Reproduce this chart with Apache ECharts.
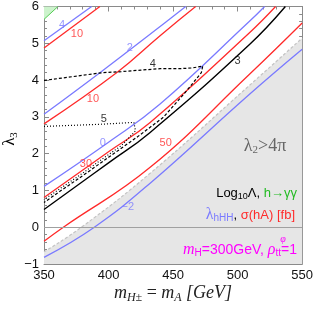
<!DOCTYPE html>
<html><head><meta charset="utf-8">
<script src="https://cdn.jsdelivr.net/npm/echarts@6/dist/echarts.min.js"></script>
<style>html,body{margin:0;padding:0;background:#fff}#c{width:316px;height:309px}</style>
</head><body><div id="c"></div>
<script>
// ---- data (x = m_H± = m_A [GeV], y = λ3) ----
const greenRegion = [[350,5.65],[360.8,6]];
const lambda2Boundary = [[350,-0.67],[379,0],[432,1.46],[509,3.85],[550,5.14]];
const lamM2 = [[350,-0.82],[389,0],[432,1.19],[509,3.61],[550,4.84]];
const sig50 = [[350,-0.38],[365,0],[432,1.62],[509,4.15],[550,5.55]];
const log3 = [[350,0.48],[400,1.75],[432,2.57],[509,4.96],[537,6]];
const sig30 = [[350,0.81],[400,2.05],[432,2.84],[509,5.28],[529.4,6]];
const lam0 = [[350,1.11],[400,2.31],[439.7,3.34],[509,5.59],[520.9,6]];
const sig10b = [[350,2.81],[407,4.22],[439.7,5.2],[467.5,6]];
const lam2 = [[350,3.07],[393.3,4.2],[439.7,5.45],[459.8,6]];
const sig10a = [[350,4.87],[393.3,6]];
const lam4 = [[350,5.07],[386.9,6]];
const log4 = [[350,3.99],[365,4.06],[380,4.13],[395,4.2],[410,4.23],[425,4.27],[440,4.31],[455,4.31],[465,4.33],[473,4.38],
              [471.9,4.2],[460.3,3.7],[442.2,2.98],[421.7,2.44],[400,1.9],[380,1.4],[365,1.04],[350,0.67]];
const log5 = [[350,2.74],[365,2.76],[380,2.78],[395,2.8],[410,2.83],[419.6,2.85],
              [420.9,2.62],[410,2.22],[395,1.85],[380,1.47],[365,1.11],[350,0.75]];
const labelText = ['4','10','2','10','4','5','0','30','3','50','\u22122'];
const labelX = [363.9,375.5,416.5,387.9,434.3,396.4,395.6,382.5,500,444.3,414.9];
const labelY = [5.51,5.24,4.86,3.49,4.43,2.95,2.30,1.73,4.51,2.30,0.54];
const labelKind = ['lam','sig','lam','sig','log','log','lam','sig','log','sig','lam'];
const xTicks = [350,400,450,500,550];
const yTicks = [-1,0,1,2,3,4,5,6];

// ---- styles ----
const BLUE = '#7a7aff', RED = '#ff2a2a', BLACK = '#000', GREEN = '#33bb33';
const kindColor = {lam: BLUE, sig: RED, log: BLACK};
const FRAME = '#8a8a8a';
const SANS = 'Liberation Sans, Arial, sans-serif';
const SERIF = 'Liberation Serif, Times New Roman, serif';

function line(data, color, opts) {
  return Object.assign({type:'line', data, symbol:'none', smooth:0.45, silent:true,
    lineStyle:{color, width:1.3}}, opts || {});
}
const axisCommon = {
  axisLine:{show:true, onZero:false, lineStyle:{color:FRAME, width:1}},
  axisTick:{show:true, inside:true, length:5, lineStyle:{color:FRAME}},
  minorTick:{show:true, splitNumber:5, length:3, lineStyle:{color:FRAME}},
  splitLine:{show:false}
};
const fmt = v => String(v).replace('-', '\u2212');

const chart = echarts.init(document.getElementById('c'), null, {renderer:'canvas'});
chart.setOption({
  animation:false,
  grid:{left:44, right:13, top:5, bottom:45},
  xAxis:[
    Object.assign({type:'value', min:xTicks[0], max:xTicks[xTicks.length-1], interval:xTicks[1]-xTicks[0], position:'bottom',
      axisLabel:{color:'#111', fontSize:13, fontFamily:SANS, margin:5, formatter:fmt}}, axisCommon),
    Object.assign({type:'value', min:xTicks[0], max:xTicks[xTicks.length-1], interval:xTicks[1]-xTicks[0], position:'top',
      axisLabel:{show:false}}, axisCommon)
  ],
  yAxis:[
    Object.assign({type:'value', min:yTicks[0], max:yTicks[yTicks.length-1], interval:1, position:'left',
      axisLabel:{color:'#111', fontSize:13, fontFamily:SANS, margin:5, formatter:fmt}}, axisCommon),
    Object.assign({type:'value', min:yTicks[0], max:yTicks[yTicks.length-1], interval:1, position:'right',
      axisLabel:{show:false}}, axisCommon)
  ],
  series:[
    line(lambda2Boundary, '#c4c4c4', {z:1, lineStyle:{color:'#c4c4c4', width:1.2, type:[3,2]},
      areaStyle:{color:'#e6e6e6', origin:'start', opacity:1},
      markLine:{silent:true, symbol:'none', label:{show:false}, lineStyle:{color:'#a0a0a0', width:1, type:'solid'}, data:[{yAxis:0}]}}),
    line(greenRegion, GREEN, {smooth:false, z:1, lineStyle:{color:'#55cc55', width:1}, areaStyle:{color:'#ccf3cc', origin:'end', opacity:1}}),
    line(lamM2, BLUE), line(sig50, RED), line(log3, BLACK, {lineStyle:{color:BLACK, width:1.4}}),
    line(sig30, RED), line(lam0, BLUE), line(sig10b, RED), line(lam2, BLUE), line(sig10a, RED), line(lam4, BLUE),
    line(log4, BLACK, {smooth:false, lineStyle:{color:BLACK, width:1.2, type:[3,2]}}),
    line(log5, BLACK, {smooth:false, lineStyle:{color:BLACK, width:1.2, type:[1,2]}}),
    {type:'scatter', symbol:'circle', symbolSize:0, silent:true, z:10,
      label:{show:true, position:'inside', fontSize:11, fontFamily:SANS},
      data: labelText.map((t,i)=>({value:[labelX[i], labelY[i]], label:{formatter:t, color:kindColor[labelKind[i]]}}))}
  ],
  graphic:[
    {type:'text', x:10, y:139, rotation:Math.PI/2, silent:true, z:100,
      style:{text:'{l|λ}{s|3}', align:'center', verticalAlign:'middle', fill:'#000',
        rich:{l:{fontSize:17, fontFamily:SERIF, lineHeight:20, fill:'#000'}, s:{fontSize:11, fontFamily:SERIF, lineHeight:12, verticalAlign:'bottom', fill:'#000'}}}},
    {type:'text', x:173, y:293, silent:true, z:100,
      style:{text:'{i|m}{is|H±}{u| = }{i|m}{is|A}{u| }{i|[GeV]}', align:'center', verticalAlign:'middle', fill:'#222',
        rich:{i:{fontSize:18, fontFamily:SERIF, fontStyle:'italic', lineHeight:21}, is:{fontSize:12, fontFamily:SERIF, fontStyle:'italic', lineHeight:12, verticalAlign:'bottom'},
              u:{fontSize:18, fontFamily:SERIF, lineHeight:21}}}},
    {type:'text', x:265, y:146, silent:true, z:100,
      style:{text:'{a|λ}{s|2}{a|>4π}', align:'center', verticalAlign:'middle', fill:'#666',
        rich:{a:{fontSize:18, fontFamily:SERIF, lineHeight:20, fill:'#666'}, s:{fontSize:11, fontFamily:SERIF, lineHeight:12, verticalAlign:'bottom', fill:'#666'}}}},
    {type:'text', x:297, y:193, silent:true, z:100,
      style:{text:'{b|Log}{bs|10}{b|Λ, }{g|h→γγ}', align:'right', verticalAlign:'middle',
        rich:{b:{fontSize:13, fontFamily:SANS, lineHeight:16, fill:'#000'}, bs:{fontSize:9, fontFamily:SANS, lineHeight:10, verticalAlign:'bottom', fill:'#000'},
              g:{fontSize:13, fontFamily:SANS, lineHeight:16, fill:'#22bb22'}}}},
    {type:'text', x:295, y:215, silent:true, z:100,
      style:{text:'{l|λ}{ls|hHH}{b|, }{r|σ(hA) [fb]}', align:'right', verticalAlign:'middle',
        rich:{l:{fontSize:16, fontFamily:SERIF, lineHeight:17, fill:BLUE}, ls:{fontSize:10, fontFamily:SANS, lineHeight:10, verticalAlign:'bottom', fill:BLUE},
              b:{fontSize:13, fontFamily:SANS, lineHeight:16, fill:'#000'}, r:{fontSize:13, fontFamily:SANS, lineHeight:16, fill:RED}}}},
    {type:'text', x:297, y:250, silent:true, z:100,
      style:{text:'{i|m}{s|H}{p|=300GeV, }{i|ρ}{s|tt}{p|=1}', align:'right', verticalAlign:'middle',
        rich:{i:{fontSize:16, fontFamily:SERIF, fontStyle:'italic', lineHeight:17, fill:'#ff00ff'}, s:{fontSize:10, fontFamily:SANS, lineHeight:10, verticalAlign:'bottom', fill:'#ff00ff'},
              p:{fontSize:14, fontFamily:SANS, lineHeight:17, fill:'#ff00ff'}}}},
    {type:'text', x:283, y:239, silent:true, z:100,
      style:{text:'φ', align:'center', verticalAlign:'middle', fontSize:10, fontFamily:SERIF, fontStyle:'italic', fill:'#ff00ff'}}
  ]
});
</script></body></html>
